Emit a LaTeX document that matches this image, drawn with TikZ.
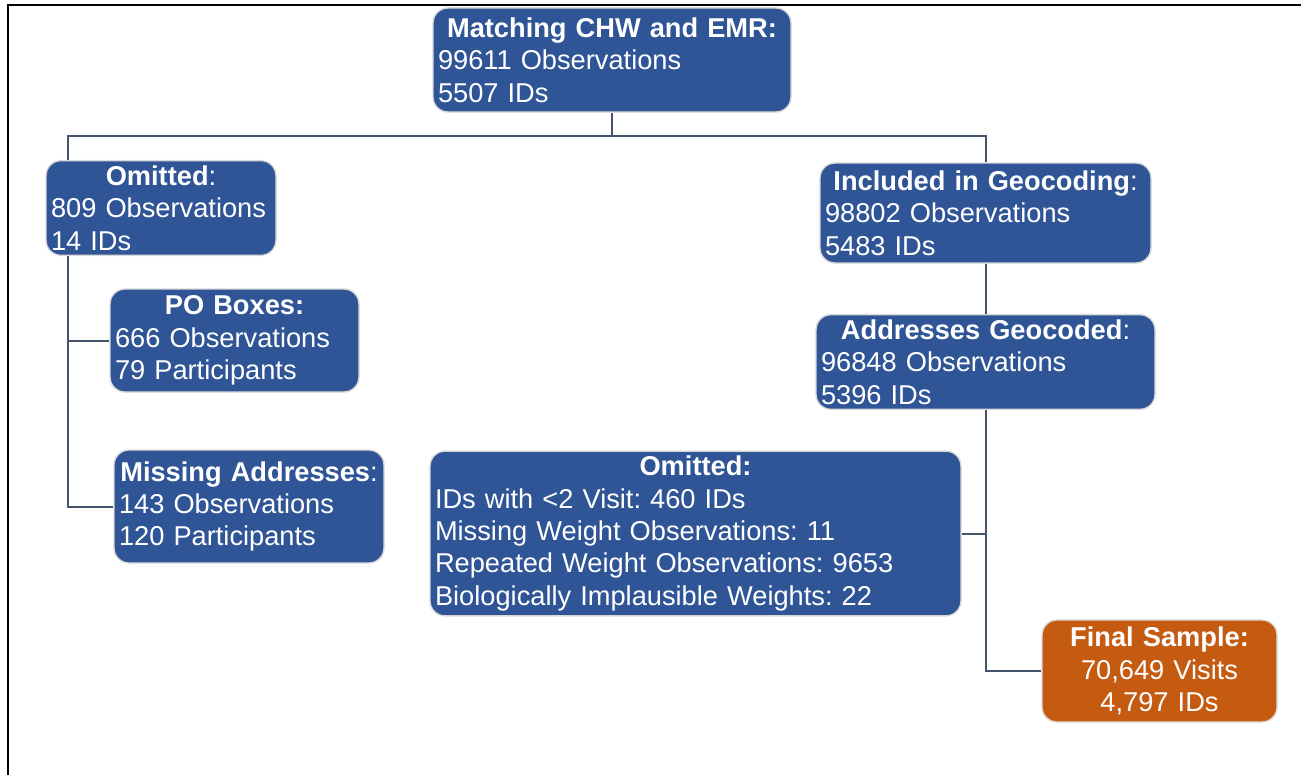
\documentclass[tikz,border=0pt]{standalone}
\usepackage{fontspec}
\setmainfont{Liberation Sans}
\usepackage{tikz}
\usetikzlibrary{calc,positioning}
\frenchspacing
\definecolor{colorstage}{HTML}{2F5597}
\definecolor{colorfinal}{HTML}{C55A11}
\definecolor{colorlink}{HTML}{44546A}
\newcommand{\stagetitle}[1]{\makebox[\linewidth]{#1}}
\tikzset{
  stage/.style={fill=colorstage, draw=gray!30, line width=0.8pt, rounded corners=0.3cm, text=white,
    inner sep=0.1cm, align=left, font=\fontsize{15.5}{18.4}\selectfont},
  finalstage/.style={stage, fill=colorfinal, align=center},
  link/.style={colorlink, line width=0.04cm}
}
\begin{document}
\begin{tikzpicture}
\useasboundingbox (0,0) rectangle (26.02,-15.5);
\draw[line width=0.045cm] (0.16,-15.5) -- (0.16,-0.1) -- (26.02,-0.1);
\coordinate (spineL) at (1.35,0);
\node[stage, text width=6.96cm, minimum height=2.08cm] (match) at (12.24,-1.2)
  {\stagetitle{\textbf{Matching CHW and EMR:}}\\99611 Observations\\5507 IDs};
\node[stage, text width=4.40cm, minimum height=1.84cm] (omitA) at (3.22,-4.16)
  {\stagetitle{\textbf{Omitted}:}\\809 Observations\\14 IDs};
\node[stage, text width=6.42cm, minimum height=2.00cm] (incl) at (19.71,-4.26)
  {\stagetitle{\textbf{Included in Geocoding}:}\\98802 Observations\\5483 IDs};
\node[stage, text width=6.58cm, minimum height=1.84cm] (geo) at (19.71,-7.24)
  {\stagetitle{\textbf{Addresses Geocoded}:}\\96848 Observations\\5396 IDs};
\node[stage, text width=4.78cm, minimum height=2.06cm] (pobox) at (4.69,-6.81)
  {\stagetitle{\textbf{PO Boxes:}}\\666 Observations\\79 Participants};
\node[stage, text width=5.20cm, minimum height=2.26cm] (missaddr) at (4.98,-10.13)
  {\stagetitle{\textbf{Missing Addresses}:}\\143 Observations\\120 Participants};
\node[stage, text width=10.42cm, minimum height=3.26cm] (omitB) at (13.91,-10.67)
  {\stagetitle{\textbf{Omitted:}}\\IDs with <2 Visit: 460 IDs\\Missing Weight Observations: 11\\Repeated Weight Observations: 9653\\Biologically Implausible Weights: 22};
\node[finalstage, text width=4.50cm, minimum height=2.04cm] (final) at (23.19,-13.42)
  {\textbf{Final Sample:}\\70,649 Visits\\4,797 IDs};
\draw[link] (match.south) -- ++(0,-0.46) coordinate (fork);
\draw[link] (fork) -| (omitA.north -| spineL);
\draw[link] (fork) -| (incl.north);
\draw[link] (omitA.south -| spineL) |- (missaddr.west);
\draw[link] (spineL |- pobox.west) -- (pobox.west);
\draw[link] (incl) -- (geo);
\draw[link] (geo.south) |- (final.west);
\draw[link] (omitB.east) -- (omitB.east -| geo.south);
\end{tikzpicture}
\end{document}
